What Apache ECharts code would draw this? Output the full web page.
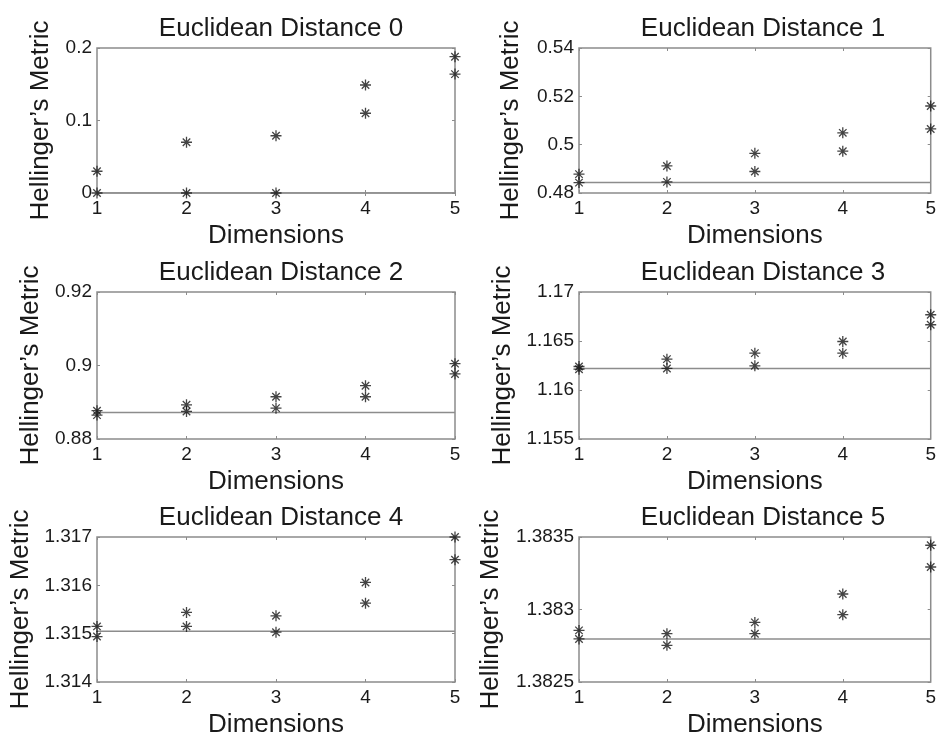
<!DOCTYPE html>
<html>
<head>
<meta charset="utf-8">
<script src="https://cdn.jsdelivr.net/npm/echarts@6/dist/echarts.min.js"></script>
<style>
  html, body { margin: 0; padding: 0; background: #fff; }
  #chart { width: 939px; height: 739px; }
</style>
</head>
<body>
<div id="chart"></div>
<script>
const dims = [1, 2, 3, 4, 5]
const titles = ['Euclidean Distance 0', 'Euclidean Distance 1', 'Euclidean Distance 2',
  'Euclidean Distance 3', 'Euclidean Distance 4', 'Euclidean Distance 5']

// two runs per dimension (upper / lower stars) + reference line level
const upper0 = [0.030, 0.070, 0.079, 0.149, 0.188]
const lower0 = [0, 0, 0, 0.110, 0.164]
const base0 = 0

const upper1 = [0.4878, 0.4912, 0.4964, 0.5049, 0.5160]
const lower1 = [0.4843, 0.4846, 0.4889, 0.4973, 0.5065]
const base1 = 0.4843

const upper2 = [0.8877, 0.8893, 0.8915, 0.8945, 0.9005]
const lower2 = [0.8865, 0.8875, 0.8884, 0.8915, 0.8977]
const base2 = 0.8872

const upper3 = [1.16240, 1.16315, 1.16376, 1.16495, 1.16768]
const lower3 = [1.16212, 1.16220, 1.16247, 1.16376, 1.16666]
const base3 = 1.16219

const upper4 = [1.31515, 1.31544, 1.31537, 1.31606, 1.31700]
const lower4 = [1.31494, 1.31515, 1.31503, 1.31563, 1.31653]
const base4 = 1.31505

const upper5 = [1.382856, 1.382833, 1.382911, 1.383107, 1.383443]
const lower5 = [1.382797, 1.382753, 1.382833, 1.382964, 1.383293]
const base5 = 1.382797

const yMins = [0, 0.48, 0.88, 1.155, 1.314, 1.3825]
const yMaxs = [0.2, 0.54, 0.92, 1.17, 1.317, 1.3835]
const yIntervals = [0.1, 0.02, 0.02, 0.005, 0.001, 0.0005]

const uppers = [upper0, upper1, upper2, upper3, upper4, upper5]
const lowers = [lower0, lower1, lower2, lower3, lower4, lower5]
const bases = [base0, base1, base2, base3, base4, base5]

const FONT = '"Liberation Sans", Arial, Helvetica, sans-serif'
const AXIS_GRAY = '#8c8c8c'
const TEXT = '#1a1a1a'
const STAR = 'path://M5,0L5,10M0,5L10,5M1.6,1.6L8.4,8.4M1.6,8.4L8.4,1.6'

const colLeft = [97, 579]
const rowTop = [48, 292, 537]
const rowHeight = [145, 147, 145]
const plotWidth = 358
const yNameGap = [43, 55, 53, 63, 63, 75]

const grid = []
const xAxis = []
const yAxis = []
const series = []
const title = []

for (let i = 0; i < 6; i++) {
  const col = i % 2
  const row = Math.floor(i / 2)
  const left = colLeft[col]
  const top = rowTop[row]

  grid.push({
    left, top, width: plotWidth, height: rowHeight[row],
    show: true, borderColor: AXIS_GRAY, borderWidth: 1.5, backgroundColor: '#fff'
  })

  title.push({
    text: titles[i],
    left: left + plotWidth / 2,
    top: top - 37,
    textAlign: 'center',
    textStyle: { fontFamily: FONT, fontSize: 26, fontWeight: 'normal', color: TEXT }
  })

  // bottom axis with labels
  xAxis.push({
    gridIndex: i, type: 'value', min: 1, max: 5, interval: 1,
    name: 'Dimensions', nameLocation: 'middle', nameGap: 30,
    nameTextStyle: { fontFamily: FONT, fontSize: 26, color: TEXT },
    axisLine: { show: false },
    axisTick: { show: true, inside: true, length: 3, lineStyle: { color: AXIS_GRAY } },
    axisLabel: { fontFamily: FONT, fontSize: 19, color: TEXT, margin: 6 },
    splitLine: { show: false }
  })
  // top axis, ticks only
  xAxis.push({
    gridIndex: i, type: 'value', position: 'top', min: 1, max: 5, interval: 1,
    axisLine: { show: false },
    axisTick: { show: true, inside: true, length: 3, lineStyle: { color: AXIS_GRAY } },
    axisLabel: { show: false },
    splitLine: { show: false }
  })

  yAxis.push({
    gridIndex: i, type: 'value', min: yMins[i], max: yMaxs[i], interval: yIntervals[i],
    name: 'Hellinger\u2019s Metric', nameLocation: 'middle', nameGap: yNameGap[i],
    nameTextStyle: { fontFamily: FONT, fontSize: 26, color: TEXT },
    axisLine: { show: false },
    axisTick: { show: true, inside: true, length: 3, lineStyle: { color: AXIS_GRAY } },
    axisLabel: { fontFamily: FONT, fontSize: 19, color: TEXT, margin: 5 },
    splitLine: { show: false }
  })
  yAxis.push({
    gridIndex: i, type: 'value', position: 'right', min: yMins[i], max: yMaxs[i], interval: yIntervals[i],
    axisLine: { show: false },
    axisTick: { show: true, inside: true, length: 3, lineStyle: { color: AXIS_GRAY } },
    axisLabel: { show: false },
    splitLine: { show: false }
  })

  series.push({
    type: 'line',
    xAxisIndex: i * 2, yAxisIndex: i * 2,
    data: [[dims[0], bases[i]], [dims[dims.length - 1], bases[i]]],
    symbol: 'none',
    lineStyle: { color: AXIS_GRAY, width: 1.5 },
    silent: true,
    z: 2
  })

  const starStyle = {
    type: 'scatter',
    xAxisIndex: i * 2, yAxisIndex: i * 2,
    symbol: STAR, symbolSize: 11,
    clip: false,
    itemStyle: { color: 'rgba(0,0,0,0)', borderColor: '#151515', borderWidth: 1.3 },
    z: 3
  }
  series.push(Object.assign({}, starStyle, { data: dims.map((d, k) => [d, uppers[i][k]]) }))
  series.push(Object.assign({}, starStyle, { data: dims.map((d, k) => [d, lowers[i][k]]) }))
}

const chart = echarts.init(document.getElementById('chart'), null, { renderer: 'canvas' })
chart.setOption({
  animation: false,
  backgroundColor: '#fff',
  title,
  grid,
  xAxis,
  yAxis,
  series
})
</script>
</body>
</html>
